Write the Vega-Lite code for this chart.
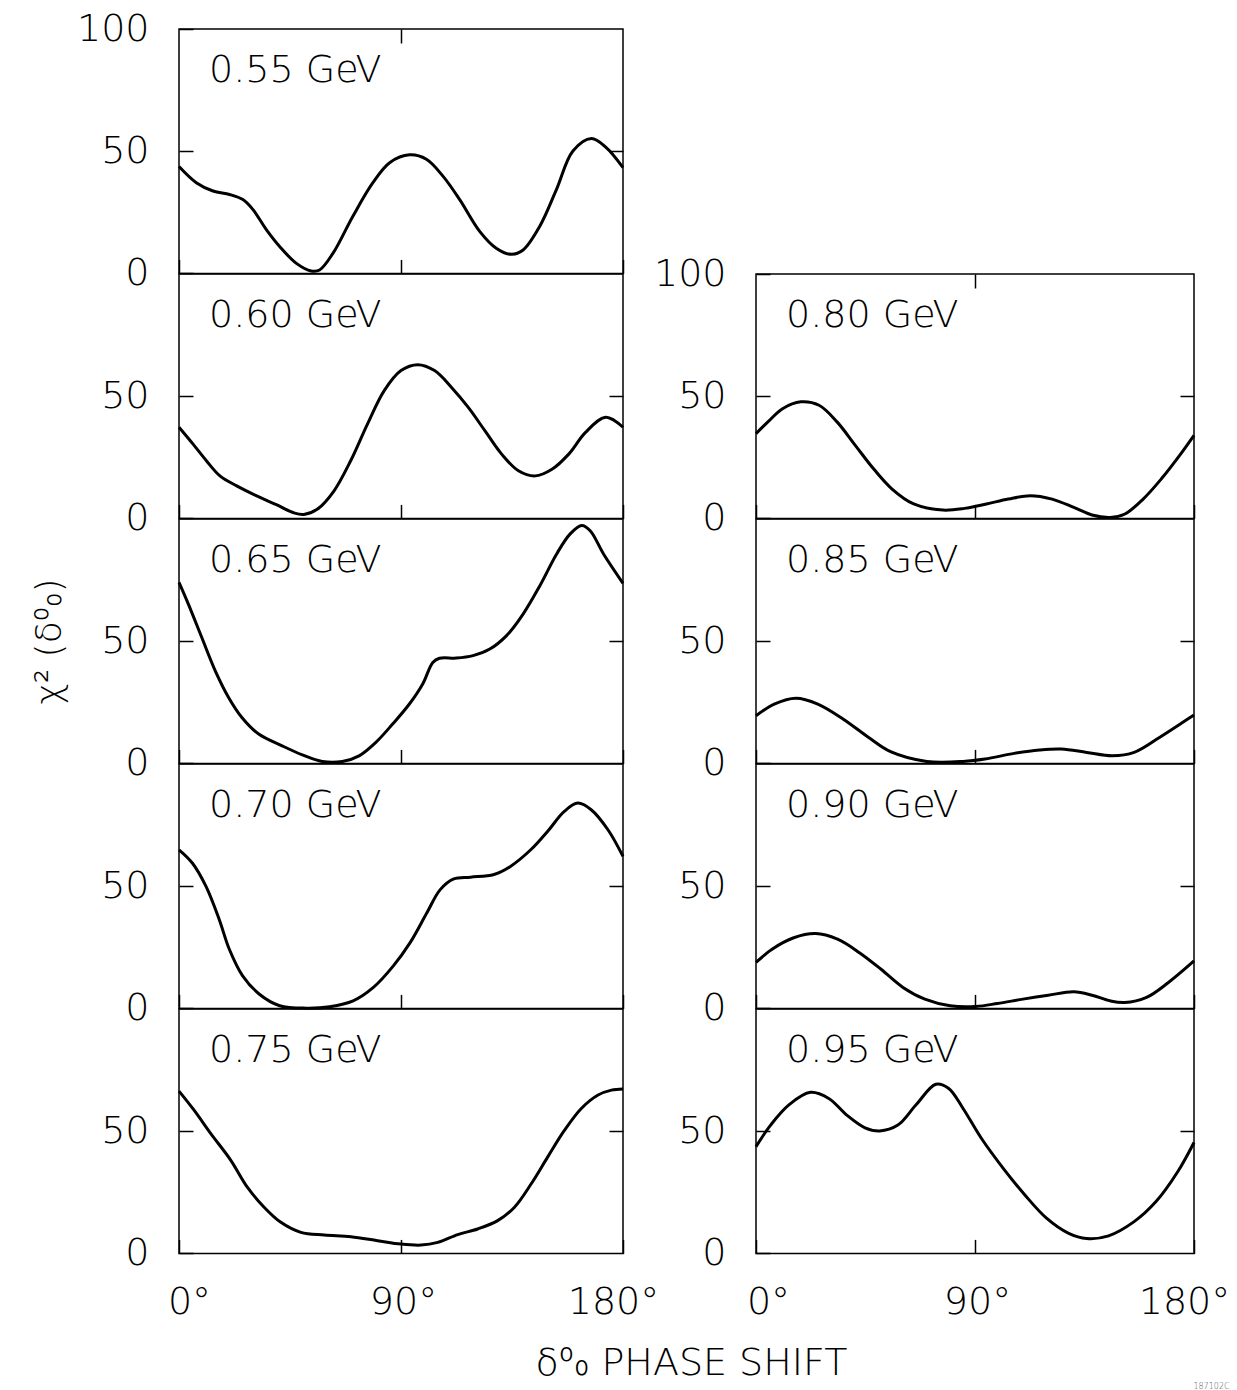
{
"$schema": "https://vega.github.io/schema/vega-lite/v6.json",
"background": "white",
"padding": {"left": 30, "top": 9, "right": 5, "bottom": 5},
"datasets": {
"p055": [{"phase":0,"chi2":43.7},{"phase":7,"chi2":37.1},{"phase":13.8,"chi2":33.7},{"phase":20.5,"chi2":32.3},{"phase":25.9,"chi2":30.2},{"phase":30,"chi2":26.1},{"phase":35.4,"chi2":17.9},{"phase":40.8,"chi2":11},{"phase":47.6,"chi2":4.1},{"phase":53.6,"chi2":1},{"phase":57,"chi2":1.4},{"phase":62.4,"chi2":8.2},{"phase":70.5,"chi2":23.4},{"phase":78.6,"chi2":37.1},{"phase":85.4,"chi2":45.3},{"phase":93.5,"chi2":48.5},{"phase":100.3,"chi2":46.7},{"phase":107,"chi2":39.8},{"phase":113.8,"chi2":30.2},{"phase":121.9,"chi2":17.2},{"phase":128.6,"chi2":10.3},{"phase":134.7,"chi2":7.8},{"phase":139.5,"chi2":9.6},{"phase":146.2,"chi2":19.2},{"phase":153,"chi2":34.3},{"phase":159.7,"chi2":50.1},{"phase":167.2,"chi2":55.2},{"phase":173.2,"chi2":51.5},{"phase":180,"chi2":43.3}],
"p060": [{"phase":0,"chi2":37.3},{"phase":5.7,"chi2":30.4},{"phase":11.1,"chi2":23.6},{"phase":16.6,"chi2":17.4},{"phase":23.4,"chi2":13.3},{"phase":31.5,"chi2":9.2},{"phase":39.7,"chi2":5.5},{"phase":46.5,"chi2":2.3},{"phase":50.6,"chi2":1.6},{"phase":56,"chi2":3.7},{"phase":62.8,"chi2":11.2},{"phase":69.6,"chi2":23.6},{"phase":76.4,"chi2":38.6},{"phase":83.2,"chi2":52.3},{"phase":90,"chi2":60.5},{"phase":96.8,"chi2":62.9},{"phase":103.6,"chi2":60.5},{"phase":110.4,"chi2":53.7},{"phase":117.2,"chi2":45.5},{"phase":124,"chi2":35.9},{"phase":130.8,"chi2":26.3},{"phase":137.6,"chi2":19.5},{"phase":144.4,"chi2":17.4},{"phase":151.2,"chi2":20.1},{"phase":158,"chi2":26.3},{"phase":164.8,"chi2":35.2},{"phase":173,"chi2":41.4},{"phase":180,"chi2":37.3}],
"p065": [{"phase":0,"chi2":74.1},{"phase":3.8,"chi2":65.2},{"phase":9.2,"chi2":51.6},{"phase":14.7,"chi2":37.9},{"phase":20.1,"chi2":27},{"phase":25.5,"chi2":18.8},{"phase":32.3,"chi2":12},{"phase":41.8,"chi2":7.2},{"phase":50,"chi2":3.5},{"phase":58.1,"chi2":0.8},{"phase":66.2,"chi2":0.8},{"phase":73,"chi2":3.1},{"phase":79.8,"chi2":8.6},{"phase":86.6,"chi2":16.1},{"phase":93.4,"chi2":24.3},{"phase":98.8,"chi2":32.5},{"phase":102.9,"chi2":41.3},{"phase":105.6,"chi2":43},{"phase":112.4,"chi2":43.1},{"phase":119.2,"chi2":44.1},{"phase":126,"chi2":46.8},{"phase":132.8,"chi2":52.3},{"phase":139.5,"chi2":61.1},{"phase":146.3,"chi2":72.7},{"phase":153.1,"chi2":85.7},{"phase":158.6,"chi2":93.9},{"phase":163.3,"chi2":97.3},{"phase":166.7,"chi2":95.2},{"phase":172.1,"chi2":85.7},{"phase":180,"chi2":73.7}],
"p070": [{"phase":0,"chi2":64.9},{"phase":5.4,"chi2":59.5},{"phase":10.9,"chi2":50},{"phase":16.3,"chi2":36.4},{"phase":20.4,"chi2":24.2},{"phase":25.8,"chi2":13.3},{"phase":32.6,"chi2":5.8},{"phase":40.8,"chi2":1.1},{"phase":51.6,"chi2":0.1},{"phase":61.1,"chi2":0.7},{"phase":70.6,"chi2":3.1},{"phase":78.8,"chi2":8.6},{"phase":86.9,"chi2":17.4},{"phase":93.7,"chi2":26.9},{"phase":100.5,"chi2":39.1},{"phase":105.9,"chi2":48.6},{"phase":111.4,"chi2":53},{"phase":118.2,"chi2":53.7},{"phase":127.7,"chi2":54.8},{"phase":134.5,"chi2":58.2},{"phase":142.6,"chi2":64.9},{"phase":149.4,"chi2":72.4},{"phase":156.2,"chi2":80.6},{"phase":161.7,"chi2":84},{"phase":167.1,"chi2":81.3},{"phase":173.9,"chi2":73.1},{"phase":180,"chi2":62.2}],
"p075": [{"phase":0,"chi2":66.4},{"phase":6.1,"chi2":58.6},{"phase":12.9,"chi2":49},{"phase":21,"chi2":38.1},{"phase":27.7,"chi2":27.1},{"phase":34.5,"chi2":18.9},{"phase":41.3,"chi2":12.7},{"phase":49.4,"chi2":8.6},{"phase":58.9,"chi2":7.5},{"phase":69.7,"chi2":6.8},{"phase":80.5,"chi2":5.2},{"phase":90,"chi2":3.8},{"phase":98.1,"chi2":3.4},{"phase":104.9,"chi2":4.5},{"phase":113,"chi2":7.7},{"phase":121.1,"chi2":10},{"phase":129.2,"chi2":13.4},{"phase":136,"chi2":18.9},{"phase":142.8,"chi2":28.5},{"phase":149.5,"chi2":39.5},{"phase":156.3,"chi2":50.4},{"phase":163.1,"chi2":59.3},{"phase":169.9,"chi2":64.8},{"phase":175.3,"chi2":66.8},{"phase":180,"chi2":67.3}],
"p080": [{"phase":0,"chi2":34.7},{"phase":4.9,"chi2":39.5},{"phase":10.9,"chi2":44.9},{"phase":18.4,"chi2":47.7},{"phase":25.9,"chi2":46.3},{"phase":33.3,"chi2":39.5},{"phase":40.8,"chi2":29.9},{"phase":48.3,"chi2":20.3},{"phase":55.8,"chi2":12.1},{"phase":64.8,"chi2":5.9},{"phase":76.8,"chi2":3.4},{"phase":85.7,"chi2":4.1},{"phase":94.7,"chi2":5.9},{"phase":103.7,"chi2":7.9},{"phase":112.7,"chi2":9.3},{"phase":121.7,"chi2":7.9},{"phase":130.6,"chi2":4.5},{"phase":138.1,"chi2":1.4},{"phase":145.6,"chi2":0.4},{"phase":151.6,"chi2":1.8},{"phase":159.1,"chi2":7.9},{"phase":166.6,"chi2":16.2},{"phase":174.1,"chi2":25.8},{"phase":180,"chi2":34}],
"p085": [{"phase":0,"chi2":19.5},{"phase":7.5,"chi2":24.3},{"phase":16.4,"chi2":26.7},{"phase":25.4,"chi2":24.3},{"phase":35.9,"chi2":18.1},{"phase":46.3,"chi2":10.6},{"phase":55.3,"chi2":4.8},{"phase":70.2,"chi2":0.8},{"phase":85.1,"chi2":0.8},{"phase":94.1,"chi2":1.8},{"phase":106.1,"chi2":4.1},{"phase":116.5,"chi2":5.5},{"phase":125.5,"chi2":5.9},{"phase":135.9,"chi2":4.5},{"phase":146.4,"chi2":3.1},{"phase":155.4,"chi2":4.5},{"phase":165.8,"chi2":10.6},{"phase":174.8,"chi2":16.4},{"phase":180,"chi2":19.8}],
"p090": [{"phase":0,"chi2":18.8},{"phase":6.6,"chi2":24.2},{"phase":15.5,"chi2":28.9},{"phase":24.5,"chi2":30.6},{"phase":33.5,"chi2":28.3},{"phase":42.5,"chi2":22.8},{"phase":51.4,"chi2":16},{"phase":60.4,"chi2":8.6},{"phase":69.4,"chi2":3.8},{"phase":79.8,"chi2":1.1},{"phase":90.3,"chi2":0.8},{"phase":99.2,"chi2":2},{"phase":109.7,"chi2":3.8},{"phase":120.1,"chi2":5.4},{"phase":130.6,"chi2":6.8},{"phase":138.1,"chi2":5.4},{"phase":145.5,"chi2":3.1},{"phase":151.5,"chi2":2.4},{"phase":160.5,"chi2":4.5},{"phase":169.5,"chi2":10.6},{"phase":180,"chi2":19.4}],
"p095": [{"phase":0,"chi2":43.7},{"phase":6,"chi2":52.5},{"phase":13.4,"chi2":60.7},{"phase":22.4,"chi2":65.9},{"phase":29.9,"chi2":63.4},{"phase":37.3,"chi2":56.6},{"phase":44.8,"chi2":51.4},{"phase":50.8,"chi2":50.1},{"phase":58.3,"chi2":52.5},{"phase":65.7,"chi2":60.7},{"phase":73.9,"chi2":69.2},{"phase":79.2,"chi2":67.5},{"phase":85.1,"chi2":59.3},{"phase":92.6,"chi2":47.1},{"phase":101.6,"chi2":34.8},{"phase":110.5,"chi2":23.9},{"phase":119.5,"chi2":14.3},{"phase":128.5,"chi2":8.2},{"phase":135.9,"chi2":6.1},{"phase":144.9,"chi2":7.2},{"phase":155.4,"chi2":13},{"phase":164.3,"chi2":21.1},{"phase":173.3,"chi2":33.4},{"phase":180,"chi2":45.4}]
},
"columns": 2,
"bounds": "flush",
"spacing": {"row": 0, "column": 133},
"concat": [
{"width": 444, "height": 244.4, "data": {"name": "p055"},
 "layer": [
  {"mark": {"type": "line", "interpolate": "catmull-rom", "color": "black", "strokeWidth": 3},
   "encoding": {
    "x": {"field": "phase", "type": "quantitative", "scale": {"domain": [0, 180], "nice": false}, "axis": {"orient": "bottom", "values": [0, 90, 180], "labels": false, "title": null}},
    "y": {"field": "chi2", "type": "quantitative", "scale": {"domain": [0, 100], "nice": false}, "axis": {"orient": "left", "values": [0, 50, 100], "title": null}}}},
  {"mark": {"type": "line", "opacity": 0},
   "encoding": {
    "x": {"field": "phase", "type": "quantitative", "axis": {"orient": "top", "values": [90], "labels": false, "title": null}},
    "y": {"field": "chi2", "type": "quantitative", "axis": {"orient": "right", "values": [50], "labels": false, "title": null}}}},
  {"data": {"values": [{"label": "0.55 GeV"}]},
   "mark": {"type": "text", "align": "left", "baseline": "alphabetic", "dx": 30, "dy": 53, "fontSize": 38, "fontWeight": 200, "color": "black"},
   "encoding": {"x": {"datum": 0, "type": "quantitative", "axis": null}, "y": {"datum": 100, "type": "quantitative", "axis": null}, "text": {"field": "label"}}}
 ],
 "resolve": {"axis": {"x": "independent", "y": "independent"}}},
{"width": 438, "height": 244.4, "data": {"values": []}, "mark": "point", "encoding": {}, "view": {"stroke": null}},
{"width": 444, "height": 244.4, "data": {"name": "p060"},
 "layer": [
  {"mark": {"type": "line", "interpolate": "catmull-rom", "color": "black", "strokeWidth": 3},
   "encoding": {
    "x": {"field": "phase", "type": "quantitative", "scale": {"domain": [0, 180], "nice": false}, "axis": {"orient": "bottom", "values": [0, 90, 180], "labels": false, "title": null}},
    "y": {"field": "chi2", "type": "quantitative", "scale": {"domain": [0, 100], "nice": false}, "axis": {"orient": "left", "values": [0, 50], "title": null}}}},
  {"mark": {"type": "line", "opacity": 0},
   "encoding": {
    "x": {"field": "phase", "type": "quantitative", "axis": null},
    "y": {"field": "chi2", "type": "quantitative", "axis": {"orient": "right", "values": [50], "labels": false, "title": null}}}},
  {"data": {"values": [{"label": "0.60 GeV"}]},
   "mark": {"type": "text", "align": "left", "baseline": "alphabetic", "dx": 30, "dy": 53, "fontSize": 38, "fontWeight": 200, "color": "black"},
   "encoding": {"x": {"datum": 0, "type": "quantitative", "axis": null}, "y": {"datum": 100, "type": "quantitative", "axis": null}, "text": {"field": "label"}}}
 ],
 "resolve": {"axis": {"x": "independent", "y": "independent"}}},
{"width": 438, "height": 244.4, "data": {"name": "p080"},
 "layer": [
  {"mark": {"type": "line", "interpolate": "catmull-rom", "color": "black", "strokeWidth": 3},
   "encoding": {
    "x": {"field": "phase", "type": "quantitative", "scale": {"domain": [0, 180], "nice": false}, "axis": {"orient": "bottom", "values": [0, 90, 180], "labels": false, "title": null}},
    "y": {"field": "chi2", "type": "quantitative", "scale": {"domain": [0, 100], "nice": false}, "axis": {"orient": "left", "values": [0, 50, 100], "title": null}}}},
  {"mark": {"type": "line", "opacity": 0},
   "encoding": {
    "x": {"field": "phase", "type": "quantitative", "axis": {"orient": "top", "values": [90], "labels": false, "title": null}},
    "y": {"field": "chi2", "type": "quantitative", "axis": {"orient": "right", "values": [50], "labels": false, "title": null}}}},
  {"data": {"values": [{"label": "0.80 GeV"}]},
   "mark": {"type": "text", "align": "left", "baseline": "alphabetic", "dx": 30, "dy": 53, "fontSize": 38, "fontWeight": 200, "color": "black"},
   "encoding": {"x": {"datum": 0, "type": "quantitative", "axis": null}, "y": {"datum": 100, "type": "quantitative", "axis": null}, "text": {"field": "label"}}}
 ],
 "resolve": {"axis": {"x": "independent", "y": "independent"}}},
{"width": 444, "height": 244.4, "data": {"name": "p065"},
 "layer": [
  {"mark": {"type": "line", "interpolate": "catmull-rom", "color": "black", "strokeWidth": 3},
   "encoding": {
    "x": {"field": "phase", "type": "quantitative", "scale": {"domain": [0, 180], "nice": false}, "axis": {"orient": "bottom", "values": [0, 90, 180], "labels": false, "title": null}},
    "y": {"field": "chi2", "type": "quantitative", "scale": {"domain": [0, 100], "nice": false}, "axis": {"orient": "left", "values": [0, 50], "title": "χ² (δ⁰₀)", "titleX": -130, "titleY": 122, "titleAngle": -90, "titleAlign": "center", "titleBaseline": "middle", "titleFontSize": 36}}}},
  {"mark": {"type": "line", "opacity": 0},
   "encoding": {
    "x": {"field": "phase", "type": "quantitative", "axis": null},
    "y": {"field": "chi2", "type": "quantitative", "axis": {"orient": "right", "values": [50], "labels": false, "title": null}}}},
  {"data": {"values": [{"label": "0.65 GeV"}]},
   "mark": {"type": "text", "align": "left", "baseline": "alphabetic", "dx": 30, "dy": 53, "fontSize": 38, "fontWeight": 200, "color": "black"},
   "encoding": {"x": {"datum": 0, "type": "quantitative", "axis": null}, "y": {"datum": 100, "type": "quantitative", "axis": null}, "text": {"field": "label"}}}
 ],
 "resolve": {"axis": {"x": "independent", "y": "independent"}}},
{"width": 438, "height": 244.4, "data": {"name": "p085"},
 "layer": [
  {"mark": {"type": "line", "interpolate": "catmull-rom", "color": "black", "strokeWidth": 3},
   "encoding": {
    "x": {"field": "phase", "type": "quantitative", "scale": {"domain": [0, 180], "nice": false}, "axis": {"orient": "bottom", "values": [0, 90, 180], "labels": false, "title": null}},
    "y": {"field": "chi2", "type": "quantitative", "scale": {"domain": [0, 100], "nice": false}, "axis": {"orient": "left", "values": [0, 50], "title": null}}}},
  {"mark": {"type": "line", "opacity": 0},
   "encoding": {
    "x": {"field": "phase", "type": "quantitative", "axis": null},
    "y": {"field": "chi2", "type": "quantitative", "axis": {"orient": "right", "values": [50], "labels": false, "title": null}}}},
  {"data": {"values": [{"label": "0.85 GeV"}]},
   "mark": {"type": "text", "align": "left", "baseline": "alphabetic", "dx": 30, "dy": 53, "fontSize": 38, "fontWeight": 200, "color": "black"},
   "encoding": {"x": {"datum": 0, "type": "quantitative", "axis": null}, "y": {"datum": 100, "type": "quantitative", "axis": null}, "text": {"field": "label"}}}
 ],
 "resolve": {"axis": {"x": "independent", "y": "independent"}}},
{"width": 444, "height": 244.4, "data": {"name": "p070"},
 "layer": [
  {"mark": {"type": "line", "interpolate": "catmull-rom", "color": "black", "strokeWidth": 3},
   "encoding": {
    "x": {"field": "phase", "type": "quantitative", "scale": {"domain": [0, 180], "nice": false}, "axis": {"orient": "bottom", "values": [0, 90, 180], "labels": false, "title": null}},
    "y": {"field": "chi2", "type": "quantitative", "scale": {"domain": [0, 100], "nice": false}, "axis": {"orient": "left", "values": [0, 50], "title": null}}}},
  {"mark": {"type": "line", "opacity": 0},
   "encoding": {
    "x": {"field": "phase", "type": "quantitative", "axis": null},
    "y": {"field": "chi2", "type": "quantitative", "axis": {"orient": "right", "values": [50], "labels": false, "title": null}}}},
  {"data": {"values": [{"label": "0.70 GeV"}]},
   "mark": {"type": "text", "align": "left", "baseline": "alphabetic", "dx": 30, "dy": 53, "fontSize": 38, "fontWeight": 200, "color": "black"},
   "encoding": {"x": {"datum": 0, "type": "quantitative", "axis": null}, "y": {"datum": 100, "type": "quantitative", "axis": null}, "text": {"field": "label"}}}
 ],
 "resolve": {"axis": {"x": "independent", "y": "independent"}}},
{"width": 438, "height": 244.4, "data": {"name": "p090"},
 "layer": [
  {"mark": {"type": "line", "interpolate": "catmull-rom", "color": "black", "strokeWidth": 3},
   "encoding": {
    "x": {"field": "phase", "type": "quantitative", "scale": {"domain": [0, 180], "nice": false}, "axis": {"orient": "bottom", "values": [0, 90, 180], "labels": false, "title": null}},
    "y": {"field": "chi2", "type": "quantitative", "scale": {"domain": [0, 100], "nice": false}, "axis": {"orient": "left", "values": [0, 50], "title": null}}}},
  {"mark": {"type": "line", "opacity": 0},
   "encoding": {
    "x": {"field": "phase", "type": "quantitative", "axis": null},
    "y": {"field": "chi2", "type": "quantitative", "axis": {"orient": "right", "values": [50], "labels": false, "title": null}}}},
  {"data": {"values": [{"label": "0.90 GeV"}]},
   "mark": {"type": "text", "align": "left", "baseline": "alphabetic", "dx": 30, "dy": 53, "fontSize": 38, "fontWeight": 200, "color": "black"},
   "encoding": {"x": {"datum": 0, "type": "quantitative", "axis": null}, "y": {"datum": 100, "type": "quantitative", "axis": null}, "text": {"field": "label"}}}
 ],
 "resolve": {"axis": {"x": "independent", "y": "independent"}}},
{"width": 444, "height": 244.4, "data": {"name": "p075"},
 "layer": [
  {"mark": {"type": "line", "interpolate": "catmull-rom", "color": "black", "strokeWidth": 3},
   "encoding": {
    "x": {"field": "phase", "type": "quantitative", "scale": {"domain": [0, 180], "nice": false}, "axis": {"orient": "bottom", "values": [0, 90, 180], "labelExpr": "datum.value + '°'", "labelOffset": {"condition": [{"test": "datum.value == 0", "value": 10}, {"test": "datum.value == 180", "value": -10}], "value": 2}, "title": "δ⁰₀ PHASE SHIFT", "titleX": 512, "titleY": 110, "titleAlign": "center", "titleBaseline": "middle", "titleFontSize": 38}},
    "y": {"field": "chi2", "type": "quantitative", "scale": {"domain": [0, 100], "nice": false}, "axis": {"orient": "left", "values": [0, 50], "title": null}}}},
  {"mark": {"type": "line", "opacity": 0},
   "encoding": {
    "x": {"field": "phase", "type": "quantitative", "axis": null},
    "y": {"field": "chi2", "type": "quantitative", "axis": {"orient": "right", "values": [50], "labels": false, "title": null}}}},
  {"data": {"values": [{"label": "0.75 GeV"}]},
   "mark": {"type": "text", "align": "left", "baseline": "alphabetic", "dx": 30, "dy": 53, "fontSize": 38, "fontWeight": 200, "color": "black"},
   "encoding": {"x": {"datum": 0, "type": "quantitative", "axis": null}, "y": {"datum": 100, "type": "quantitative", "axis": null}, "text": {"field": "label"}}}
 ],
 "resolve": {"axis": {"x": "independent", "y": "independent"}}},
{"width": 438, "height": 244.4, "data": {"name": "p095"},
 "layer": [
  {"mark": {"type": "line", "interpolate": "catmull-rom", "color": "black", "strokeWidth": 3},
   "encoding": {
    "x": {"field": "phase", "type": "quantitative", "scale": {"domain": [0, 180], "nice": false}, "axis": {"orient": "bottom", "values": [0, 90, 180], "labelExpr": "datum.value + '°'", "labelOffset": {"condition": [{"test": "datum.value == 0", "value": 12}, {"test": "datum.value == 180", "value": -10}], "value": 2}, "title": "187102C", "titleX": 455, "titleY": 133, "titleAlign": "center", "titleBaseline": "middle", "titleFontSize": 8, "titleColor": "#555555"}},
    "y": {"field": "chi2", "type": "quantitative", "scale": {"domain": [0, 100], "nice": false}, "axis": {"orient": "left", "values": [0, 50], "title": null}}}},
  {"mark": {"type": "line", "opacity": 0},
   "encoding": {
    "x": {"field": "phase", "type": "quantitative", "axis": null},
    "y": {"field": "chi2", "type": "quantitative", "axis": {"orient": "right", "values": [50], "labels": false, "title": null}}}},
  {"data": {"values": [{"label": "0.95 GeV"}]},
   "mark": {"type": "text", "align": "left", "baseline": "alphabetic", "dx": 30, "dy": 53, "fontSize": 38, "fontWeight": 200, "color": "black"},
   "encoding": {"x": {"datum": 0, "type": "quantitative", "axis": null}, "y": {"datum": 100, "type": "quantitative", "axis": null}, "text": {"field": "label"}}}
 ],
 "resolve": {"axis": {"x": "independent", "y": "independent"}}}
],
"config": {
 "font": "DejaVu Sans",
 "view": {"stroke": "black", "strokeWidth": 1.5},
 "axis": {"grid": false, "domain": false, "tickSize": -14, "tickWidth": 1.5, "tickColor": "black", "labelFontSize": 38, "labelFontWeight": 200, "labelColor": "black", "labelFlush": false, "labelOverlap": false, "titleColor": "black", "titleFontWeight": 200, "titleFont": "DejaVu Sans", "labelFont": "DejaVu Sans"},
 "axisX": {"labelPadding": 44},
 "axisY": {"labelPadding": 44}
}
}
